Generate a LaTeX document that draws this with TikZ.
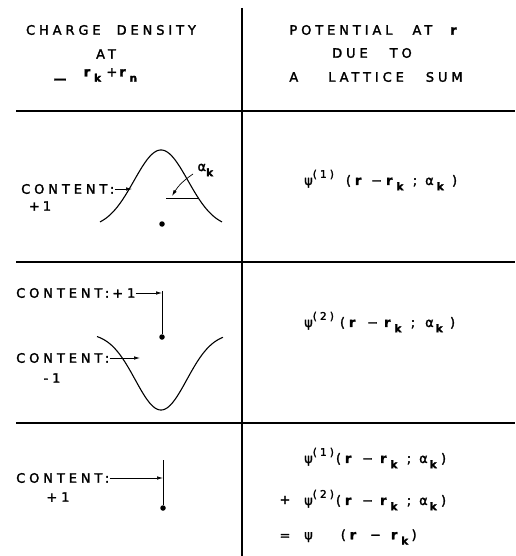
\documentclass[tikz,border=0pt]{standalone}
\usepackage{fontspec}
\setmainfont{DejaVu Sans}[LetterSpace=30, FakeBold=2]
\usetikzlibrary{arrows.meta}
\newcommand{\rv}{\textbf{r}}
\newcommand{\gap}[1]{\hspace*{#1pt}}
\newcommand{\sbs}[1]{\raisebox{-0.4em}{\fontsize{10.5}{10}\selectfont\textbf{#1}}}
\newcommand{\sk}{\sbs{k}}
\newcommand{\sps}[1]{\raisebox{0.55em}{\fontsize{10.5}{10}\selectfont(#1)}}
\begin{document}
\begin{tikzpicture}[x=1pt,y=-1pt,
  font=\fontsize{13}{15}\selectfont,
  lbl/.style={inner sep=0pt},
  rule/.style={line width=1.4pt},
  curve/.style={line width=1.1pt},
  ptr/.style={-{Latex[length=6pt,width=3.5pt]}, line width=0.7pt},
  dotpt/.style={circle, fill, inner sep=0pt, minimum size=5.5pt},
  stem/.style={line width=1pt}]
\useasboundingbox (0,0) rectangle (515,556);

% table rules
\coordinate (vt) at (242,8);
\coordinate (vb) at (242,556);
\draw[rule] (vt) -- (vb);
\coordinate (h1l) at (16,111); \coordinate (h1r) at (515,111);
\coordinate (h2l) at (16,262); \coordinate (h2r) at (515,262);
\coordinate (h3l) at (16,423); \coordinate (h3r) at (515,423);
\draw[rule] (h1l) -- (h1r);
\draw[rule] (h2l) -- (h2r);
\draw[rule] (h3l) -- (h3r);

% header left
\node[lbl] (hl1) at (111,30) {CHARGE\gap{16}DENSITY};
\node[lbl] (hl2) at (106,54) {AT};
\node[lbl] (hl3a) at (62,81) {\textbf{—}};
\node[lbl] (hl3) at (112,75) {\rv\sk\gap{2}+\gap{2}\rv\sbs{n}};

% header right
\node[lbl] (hr1) at (375,30) {POTENTIAL\gap{20}AT\gap{18}\rv};
\node[lbl] (hr2) at (372,53) {DUE\gap{22}TO};
\node[lbl] (hr3) at (376,77) {A\gap{30}LATTICE\gap{22}SUM};

% row 1
\draw[curve] plot[domain=-61:61, samples=80] ({161+\x},{228-78*exp(-(\x/27)^2/2)});
\draw[stem] (166,198) -- (199,198);
\node[dotpt] (d1) at (162,224) {};
\node[lbl,anchor=west] (c1) at (21,189) {CONTENT:};
\coordinate (t1) at (132,189);
\draw[ptr] (c1.east) -- (t1);
\node[lbl] (p1) at (40,206) {+\gap{3}1};
\node[lbl] (al) at (207,170) {α\sk};
\coordinate (a1) at (193,174);
\coordinate (a2) at (172,196);
\draw[ptr] (a1) to[bend right=12] (a2);
\node[lbl,anchor=west] (f1) at (304,180) {ψ\sps{1}\gap{12}(\rv\gap{6}−\gap{4}\rv\sk\gap{6};\gap{8}α\gap{3}\sk\gap{5})};

% row 2
\node[lbl,anchor=west] (c2) at (16,293) {CONTENT:\gap{3}+1};
\coordinate (s2t) at (162,291);
\node[dotpt] (d2) at (162,337) {};
\draw[stem] (s2t) -- (d2);
\coordinate (t2) at (162,293);
\draw[ptr] (c2.east) -- (t2);
\draw[curve] plot[domain=-64:62, samples=80] ({161+\x},{333+77*exp(-(\x/25.8)^2/2)});
\node[lbl,anchor=west] (c3) at (16,358) {CONTENT:};
\coordinate (t3) at (140,358);
\draw[ptr] (c3.east) -- (t3);
\node[lbl] (m1) at (52,378) {-1};
\node[lbl,anchor=west] (f2) at (304,322) {ψ\sps{2}\gap{6}(\rv\gap{8}−\gap{6}\rv\sk\gap{6};\gap{10}α\gap{2}\sk\gap{4})};

% row 3
\node[lbl,anchor=west] (c4) at (16,478) {CONTENT:};
\coordinate (s3t) at (163,460);
\node[dotpt] (d3) at (163,508) {};
\draw[stem] (s3t) -- (d3);
\coordinate (t4) at (163,478);
\draw[ptr] (c4.east) -- (t4);
\node[lbl] (p3) at (58,497) {+1};
\node[lbl,anchor=west] (g1) at (304,458) {ψ\sps{1}\gap{2}(\rv\gap{7}−\gap{7}\rv\sk\gap{6};\gap{8}α\gap{2}\sk\gap{1})};
\node[lbl] (plus) at (285,500) {+};
\node[lbl,anchor=west] (g2) at (304,500) {ψ\sps{2}\gap{2}(\rv\gap{7}−\gap{7}\rv\sk\gap{6};\gap{8}α\gap{2}\sk\gap{1})};
\node[lbl] (eq) at (285,537) {=};
\node[lbl,anchor=west] (g3) at (304,537) {ψ\gap{28}(\rv\gap{10}−\gap{10}\rv\sk)};
\end{tikzpicture}
\end{document}
